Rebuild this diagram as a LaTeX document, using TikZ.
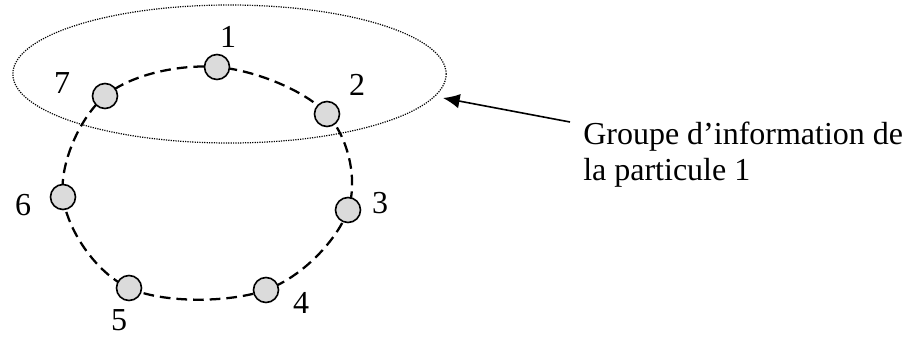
\documentclass[tikz,border=0pt]{standalone}
\usepackage{fontspec}
\setmainfont{Liberation Serif}
\usetikzlibrary{arrows.meta,shapes.geometric,backgrounds}
\begin{document}
\begin{tikzpicture}[x=0.75pt,y=-0.75pt,
  particle/.style={circle,draw=black,line width=1.2pt,fill=black!14,minimum size=18.75pt,inner sep=0pt},
  numlabel/.style={inner sep=0pt,font=\fontsize{24}{28}\selectfont},
  ring/.style={line width=1.7pt,dash pattern=on 8pt off 4.5pt},
  group/.style={ellipse,draw=black,line width=0.9pt,dash pattern=on 0.9pt off 0.9pt,minimum width=325pt,minimum height=103.5pt,inner sep=0pt},
  pointer/.style={line width=1.2pt,-{Latex[length=12.5pt,width=11pt]}},
  caption/.style={inner sep=0pt,align=left,font=\fontsize{24}{27}\selectfont}]
\useasboundingbox (0,0) rectangle (907,336);
% particles
\node[particle] (p1) at (217,67) {};
\node[particle] (p2) at (327,114) {};
\node[particle] (p3) at (348,210) {};
\node[particle] (p4) at (266,290) {};
\node[particle] (p5) at (129,288) {};
\node[particle] (p6) at (63,197) {};
\node[particle] (p7) at (105,96) {};
\begin{scope}[on background layer]
\draw[ring] plot[smooth cycle,tension=0.6] coordinates {(p1.center) (p2.center) (p3.center) (p4.center) (p5.center) (p6.center) (p7.center)};
\end{scope}
% labels
\node[numlabel] (l1) at (228,37) {1};
\node[numlabel] (l2) at (357,85) {2};
\node[numlabel] (l3) at (380,203) {3};
\node[numlabel] (l4) at (301,303) {4};
\node[numlabel] (l5) at (119,320) {5};
\node[numlabel] (l6) at (23,205) {6};
\node[numlabel] (l7) at (62,83) {7};
% group ellipse
\node[group] (grp) at (229.5,74) {};
% caption and pointer
\node[caption,anchor=north west] (cap) at (583,122) {Groupe d’information de\\la particule 1};
\coordinate (tail) at (570,122);
\coordinate (tip) at (443,98);
\draw[pointer] (tail) -- (tip);
\end{tikzpicture}
\end{document}
